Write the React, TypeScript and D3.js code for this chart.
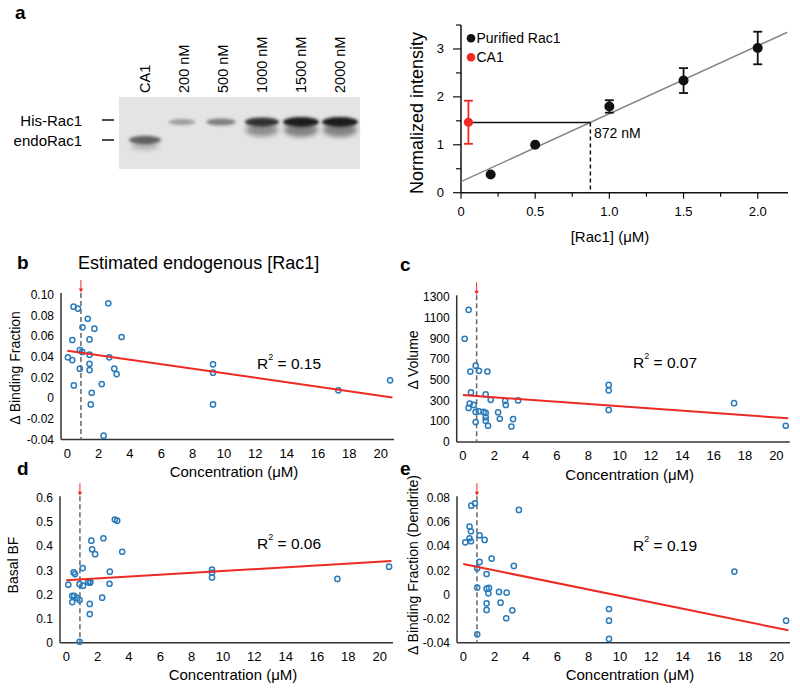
import React from "react";
import * as d3 from "d3";

const FONT = "'Liberation Sans', Arial, Helvetica, sans-serif";

// ---------- Panel a: western blot ----------
const laneNames = ["CA1", "200 nM", "500 nM", "1000 nM", "1500 nM", "2000 nM"];
const hisBand = [0, 0.35, 0.5, 0.88, 1.0, 1.0];
const endoBand = [0.72, 0, 0, 0, 0, 0];
const markerLabels = ["His-Rac1", "endoRac1"];

// ---------- Panel a: calibration ----------
const rac1Conc = [0.2, 0.5, 1.0, 1.5, 2.0];
const rac1Intensity = [0.38, 1.0, 1.8, 2.34, 3.02];
const rac1Err = [0, 0, 0.13, 0.26, 0.34];
const ca1Conc = [0.05];
const ca1Intensity = [1.47];
const ca1Err = [0.45];
const calibFit = [0.23, 1.418]; // intercept, slope
const estimate = 0.872;
const estimateLabel = "872 nM";
const aXTicks = [0, 0.5, 1.0, 1.5, 2.0];
const aXTickLabels = ["0", "0.5", "1.0", "1.5", "2.0"];
const aXMinor = [0.25, 0.75, 1.25, 1.75];
const aYTicks = [0, 1, 2, 3];
const aYMinor = [0.5, 1.5, 2.5, 3.5];
const legendLabels = ["Purified Rac1", "CA1"];

// ---------- Panels b–e: scatter ----------
const concTicks = [0, 2, 4, 6, 8, 10, 12, 14, 16, 18, 20];
const fitX = [0, 20.75];

const bX = [0.40, 0.68, 2.62, 1.31, 0.97, 1.73, 0.32, 1.42, 3.47, 0.80, 0.95, 1.42, 0.04, 2.68, 0.32, 1.42, 3.0, 0.80, 1.42, 3.15, 9.3, 9.3, 0.42, 2.2, 1.56, 1.5, 9.3, 2.32, 17.3, 20.6];
const bY = [0.0887, 0.0868, 0.092, 0.077, 0.0687, 0.0674, 0.0564, 0.057, 0.0593, 0.0467, 0.0448, 0.0422, 0.0396, 0.0396, 0.037, 0.0334, 0.0286, 0.0286, 0.0273, 0.0234, 0.0328, 0.0247, 0.0124, 0.0137, 0.0053, -0.006, -0.006, -0.0363, 0.0076, 0.0173];
const bFit = [0.046, 0.0008];
const bTicks = [-0.04, -0.02, 0, 0.02, 0.04, 0.06, 0.08, 0.1];
const bTickLabels = ["-0.04", "-0.02", "0", "0.02", "0.04", "0.06", "0.08", "0.10"];

const cX = [0.36, 0.11, 0.81, 0.47, 1.02, 1.56, 0.51, 1.45, 1.77, 2.69, 2.73, 3.52, 0.43, 0.68, 0.36, 0.81, 1.02, 1.32, 1.45, 1.45, 1.45, 2.24, 2.35, 0.81, 1.6, 3.2, 3.09, 9.3, 9.3, 9.3, 17.3, 20.6];
const cY = [1179, 899, 638, 582, 589, 582, 380, 360, 308, 298, 259, 302, 272, 259, 230, 191, 197, 191, 181, 139, 106, 187, 125, 93, 57, 122, 50, 452, 400, 210, 276, 57];
const cFit = [354, 129];
const cTicks = [-100, 100, 300, 500, 700, 900, 1100, 1300];
const cTickLabels = ["0", "100", "300", "500", "700", "900", "1100", "1300"];

const dX = [3.10, 3.25, 1.60, 2.37, 1.65, 1.84, 3.57, 1.05, 0.47, 0.56, 2.78, 0.13, 0.85, 1.07, 1.39, 1.5, 1.54, 2.76, 0.38, 0.51, 0.7, 0.85, 0.38, 2.29, 1.5, 1.5, 0.85, 9.3, 9.3, 9.3, 17.3, 20.6];
const dY = [0.512, 0.507, 0.424, 0.434, 0.388, 0.368, 0.378, 0.31, 0.292, 0.285, 0.295, 0.241, 0.243, 0.237, 0.252, 0.249, 0.252, 0.245, 0.195, 0.195, 0.186, 0.177, 0.169, 0.187, 0.161, 0.119, 0.004, 0.304, 0.291, 0.271, 0.265, 0.316];
const dFit = [0.26, 0.339];
const dTicks = [0, 0.1, 0.2, 0.3, 0.4, 0.5, 0.6];
const dTickLabels = ["0", "0.1", "0.2", "0.3", "0.4", "0.5", "0.6"];

const eX = [0.74, 0.51, 3.55, 0.4, 0.49, 0.13, 0.4, 0.49, 1.04, 1.36, 1.04, 1.81, 3.23, 0.89, 1.49, 17.3, 1.49, 1.64, 0.89, 1.6, 2.28, 2.77, 2.38, 1.49, 1.49, 3.13, 2.74, 9.3, 9.3, 9.3, 0.89, 20.6];
const eY = [0.0758, 0.0739, 0.0703, 0.0565, 0.0526, 0.0434, 0.0468, 0.0443, 0.0493, 0.0454, 0.0271, 0.0299, 0.0238, 0.0218, 0.0171, 0.0191, 0.0049, 0.0055, 0.0058, 0.001, 0.0022, 0.0016, -0.0067, -0.0073, -0.0128, -0.0131, -0.0197, -0.012, -0.0217, -0.0369, -0.033, -0.0217];
const eFit = [0.0254, -0.0297];
const eTicks = [-0.04, -0.02, 0, 0.02, 0.04, 0.06, 0.08];
const eTickLabels = ["-0.04", "-0.02", "0", "0.02", "0.04", "0.06", "0.08"];

const BLUE = "#2b7bba";
const RED = "#ee2a24";
const AXIS = "#333";

type ScatterProps = {
  ox: number; yTop: number; yBottom: number;
  yDomain: [number, number]; yTicks: number[]; yTickLabels: string[];
  xs: number[]; ys: number[]; fitY: number[]; r2: string;
  yLabel: string; yLabelX: number; yLabelY: number; r2X: number; r2Y: number;
  letter: string; letterX: number; letterY: number;
};

function Scatter(p: ScatterProps) {
  const x = d3.scaleLinear().domain([-0.4, 20.85]).range([p.ox, p.ox + 333]);
  const y = d3.scaleLinear().domain(p.yDomain).range([p.yBottom, p.yTop]);
  const line = d3.line<number>().x((_, i) => x(fitX[i])).y((d) => y(d));
  const ax = x(estimate);
  return (
    <g fontFamily={FONT}>
      <text x={p.letterX} y={p.letterY} fontSize={19} fontWeight="bold">{p.letter}</text>
      {/* axes */}
      <line x1={p.ox} x2={p.ox} y1={p.yTop - 2} y2={p.yBottom} stroke={AXIS} strokeWidth={1.5} />
      <line x1={p.ox} x2={p.ox + 333} y1={p.yBottom} y2={p.yBottom} stroke={AXIS} strokeWidth={1.5} />
      {p.yTicks.map((t, i) => (
        <text key={"yt" + i} x={p.ox - 7} y={y(t)} textAnchor="end" dominantBaseline="central" fontSize={12}>{p.yTickLabels[i]}</text>
      ))}
      {concTicks.map((t) => (
        <text key={"xt" + t} x={x(t)} y={p.yBottom + 18} textAnchor="middle" fontSize={13}>{t}</text>
      ))}
      <text x={p.ox + 173} y={p.yBottom + 37.5} textAnchor="middle" fontSize={15}>Concentration (μM)</text>
      <text transform={`translate(${p.yLabelX},${p.yLabelY}) rotate(-90)`} textAnchor="middle" dominantBaseline="central" fontSize={14}>{p.yLabel}</text>
      {/* estimate marker */}
      <line x1={ax} x2={ax} y1={p.yTop - 2} y2={p.yBottom} stroke="#666" strokeWidth={1.5} strokeDasharray="5,3" />
      <line x1={ax} x2={ax} y1={p.yTop - 15} y2={p.yTop - 5} stroke={RED} strokeWidth={1} />
      <path d={`M${ax - 2.2},${p.yTop - 6.5} L${ax + 2.2},${p.yTop - 6.5} L${ax},${p.yTop - 2.5} Z`} fill={RED} />
      {/* points */}
      {p.xs.map((v, i) => (
        <circle key={"pt" + i} cx={x(v)} cy={y(p.ys[i])} r={2.6} fill="none" stroke={BLUE} strokeWidth={1.5} />
      ))}
      <path d={line(p.fitY) || ""} stroke={RED} strokeWidth={2} fill="none" />
      <text x={p.r2X} y={p.r2Y} dominantBaseline="central" fontSize={15.5}>
        <tspan>R</tspan>
        <tspan fontSize={9} dy={-6}>2</tspan>
        <tspan dy={6}>{" = " + p.r2}</tspan>
      </text>
    </g>
  );
}

function Blot() {
  const lane = d3.scalePoint<string>().domain(laneNames).range([145, 340]);
  return (
    <g fontFamily={FONT}>
      <defs>
        <filter id="blur" x="-50%" y="-100%" width="200%" height="300%">
          <feGaussianBlur stdDeviation="1.8" />
        </filter>
        <filter id="blur2" x="-50%" y="-100%" width="200%" height="300%">
          <feGaussianBlur stdDeviation="2.8" />
        </filter>
      </defs>
      <text x={15} y={19} fontSize={19} fontWeight="bold">a</text>
      <rect x={119} y={97} width={241} height={72} fill="#e4e4e4" />
      {laneNames.map((n, i) => {
        const cx = lane(n) as number;
        const I = hisBand[i];
        const E = endoBand[i];
        return (
          <g key={n}>
            {I > 0.6 && (
              <ellipse cx={cx} cy={130} rx={11 + 6 * I} ry={2 + 5 * I} fill="#333" opacity={I * 0.55} filter="url(#blur2)" />
            )}
            {I > 0 && (
              <ellipse cx={cx - (I < 0.6 ? 2 : 0)} cy={122} rx={11 + 7 * I} ry={1.8 + 3.2 * I} fill="#1a1a1a" opacity={I} filter="url(#blur)" />
            )}
            {E > 0 && (
              <g>
                <ellipse cx={cx} cy={146} rx={14} ry={4} fill="#444" opacity={0.3} filter="url(#blur2)" />
                <ellipse cx={cx} cy={140} rx={16} ry={4.2} fill="#333" opacity={E} filter="url(#blur)" />
              </g>
            )}
            <text transform={`translate(${cx + 5},${93}) rotate(-90)`} fontSize={14.5}>{n}</text>
          </g>
        );
      })}
      {markerLabels.map((m, i) => (
        <g key={m}>
          <text x={82} y={120 + i * 20} textAnchor="end" dominantBaseline="central" fontSize={15}>{m}</text>
          <line x1={102} x2={114} y1={120 + i * 20} y2={120 + i * 20} stroke="#111" strokeWidth={1.5} />
        </g>
      ))}
    </g>
  );
}

function Calibration() {
  const x = d3.scaleLinear().domain([0, 2.2]).range([461, 787.4]);
  const y = d3.scaleLinear().domain([0, 3.5]).range([192.7, 25]);
  const fitLine = d3.line<number>().x((d) => x(d)).y((d) => y(calibFit[0] + calibFit[1] * d));
  const estY = calibFit[0] + calibFit[1] * estimate;
  const cap = 4.5;
  return (
    <g fontFamily={FONT}>
      <line x1={461} x2={461} y1={y(3.5)} y2={y(0)} stroke="#111" strokeWidth={1.5} />
      <line x1={461} x2={788} y1={y(0)} y2={y(0)} stroke="#111" strokeWidth={1.5} />
      {aYTicks.map((t) => (
        <g key={"ay" + t}>
          <line x1={453} x2={461} y1={y(t)} y2={y(t)} stroke="#111" strokeWidth={1.2} />
          <text x={444} y={y(t)} textAnchor="end" dominantBaseline="central" fontSize={13}>{t}</text>
        </g>
      ))}
      {aYMinor.map((t) => (
        <line key={"aym" + t} x1={456} x2={461} y1={y(t)} y2={y(t)} stroke="#111" strokeWidth={1.2} />
      ))}
      {aXTicks.map((t, i) => (
        <g key={"ax" + t}>
          <line x1={x(t)} x2={x(t)} y1={y(0)} y2={y(0) + 6} stroke="#111" strokeWidth={1.2} />
          <text x={x(t)} y={216} textAnchor="middle" fontSize={13}>{aXTickLabels[i]}</text>
        </g>
      ))}
      {aXMinor.map((t) => (
        <line key={"axm" + t} x1={x(t)} x2={x(t)} y1={y(0)} y2={y(0) + 4} stroke="#111" strokeWidth={1.2} />
      ))}
      <text transform="translate(417,113) rotate(-90)" textAnchor="middle" dominantBaseline="central" fontSize={18}>Normalized intensity</text>
      <text x={610} y={242} textAnchor="middle" fontSize={15}>[Rac1] (μM)</text>
      <path d={fitLine([0, 2.2]) || ""} stroke="#888" strokeWidth={1.5} fill="none" />
      <line x1={x(ca1Conc[0])} x2={x(estimate)} y1={y(estY)} y2={y(estY)} stroke="#111" strokeWidth={1.5} />
      <line x1={x(estimate)} x2={x(estimate)} y1={y(estY)} y2={y(0)} stroke="#111" strokeWidth={1.5} strokeDasharray="4,3" />
      <text x={594} y={133} dominantBaseline="central" fontSize={14}>{estimateLabel}</text>
      {rac1Conc.map((c, i) => (
        <g key={"r" + i}>
          {rac1Err[i] > 0 && (
            <g stroke="#111" strokeWidth={1.8}>
              <line x1={x(c)} x2={x(c)} y1={y(rac1Intensity[i] - rac1Err[i])} y2={y(rac1Intensity[i] + rac1Err[i])} />
              <line x1={x(c) - cap} x2={x(c) + cap} y1={y(rac1Intensity[i] - rac1Err[i])} y2={y(rac1Intensity[i] - rac1Err[i])} />
              <line x1={x(c) - cap} x2={x(c) + cap} y1={y(rac1Intensity[i] + rac1Err[i])} y2={y(rac1Intensity[i] + rac1Err[i])} />
            </g>
          )}
          <circle cx={x(c)} cy={y(rac1Intensity[i])} r={5} fill="#111" />
        </g>
      ))}
      {ca1Conc.map((c, i) => (
        <g key={"ca" + i}>
          <g stroke={RED} strokeWidth={1.8}>
            <line x1={x(c)} x2={x(c)} y1={y(ca1Intensity[i] - ca1Err[i])} y2={y(ca1Intensity[i] + ca1Err[i])} />
            <line x1={x(c) - cap} x2={x(c) + cap} y1={y(ca1Intensity[i] - ca1Err[i])} y2={y(ca1Intensity[i] - ca1Err[i])} />
            <line x1={x(c) - cap} x2={x(c) + cap} y1={y(ca1Intensity[i] + ca1Err[i])} y2={y(ca1Intensity[i] + ca1Err[i])} />
          </g>
          <circle cx={x(c)} cy={y(ca1Intensity[i])} r={4.6} fill={RED} />
        </g>
      ))}
      {legendLabels.map((l, i) => (
        <g key={l}>
          <circle cx={471} cy={38.3 + i * 19} r={4.3} fill={i === 0 ? "#111" : RED} />
          <text x={476.5} y={38.3 + i * 19} dominantBaseline="central" fontSize={14}>{l}</text>
        </g>
      ))}
    </g>
  );
}

export default function App() {
  return (
    <svg width={800} height={690} style={{ position: "absolute", left: 0, top: 0, background: "#fff" }}>
      <rect width={800} height={690} fill="#fff" />
      <Blot />
      <Calibration />
      <text x={78} y={263} dominantBaseline="central" fontSize={18} fontFamily={FONT}>Estimated endogenous [Rac1]</text>
      <Scatter ox={61} yTop={295} yBottom={439.5} yDomain={[-0.04, 0.1]} yTicks={bTicks} yTickLabels={bTickLabels}
        xs={bX} ys={bY} fitY={bFit} r2="0.15" yLabel="Δ Binding Fraction" yLabelX={15} yLabelY={368}
        r2X={257} r2Y={363} letter="b" letterX={17} letterY={269} />
      <Scatter ox={456.7} yTop={297.3} yBottom={442} yDomain={[-100, 1300]} yTicks={cTicks} yTickLabels={cTickLabels}
        xs={cX} ys={cY} fitY={cFit} r2="0.07" yLabel="Δ Volume" yLabelX={412.5} yLabelY={360}
        r2X={633} r2Y={362} letter="c" letterX={400} letterY={271} />
      <Scatter ox={60} yTop={498.3} yBottom={642.7} yDomain={[0, 0.6]} yTicks={dTicks} yTickLabels={dTickLabels}
        xs={dX} ys={dY} fitY={dFit} r2="0.06" yLabel="Basal BF" yLabelX={12.5} yLabelY={565}
        r2X={257} r2Y={543} letter="d" letterX={17} letterY={475} />
      <Scatter ox={457} yTop={498.3} yBottom={642.7} yDomain={[-0.04, 0.08]} yTicks={eTicks} yTickLabels={eTickLabels}
        xs={eX} ys={eY} fitY={eFit} r2="0.19" yLabel="Δ Binding Fraction (Dendrite)" yLabelX={413} yLabelY={565}
        r2X={633} r2Y={545} letter="e" letterX={400} letterY={475} />
    </svg>
  );
}
